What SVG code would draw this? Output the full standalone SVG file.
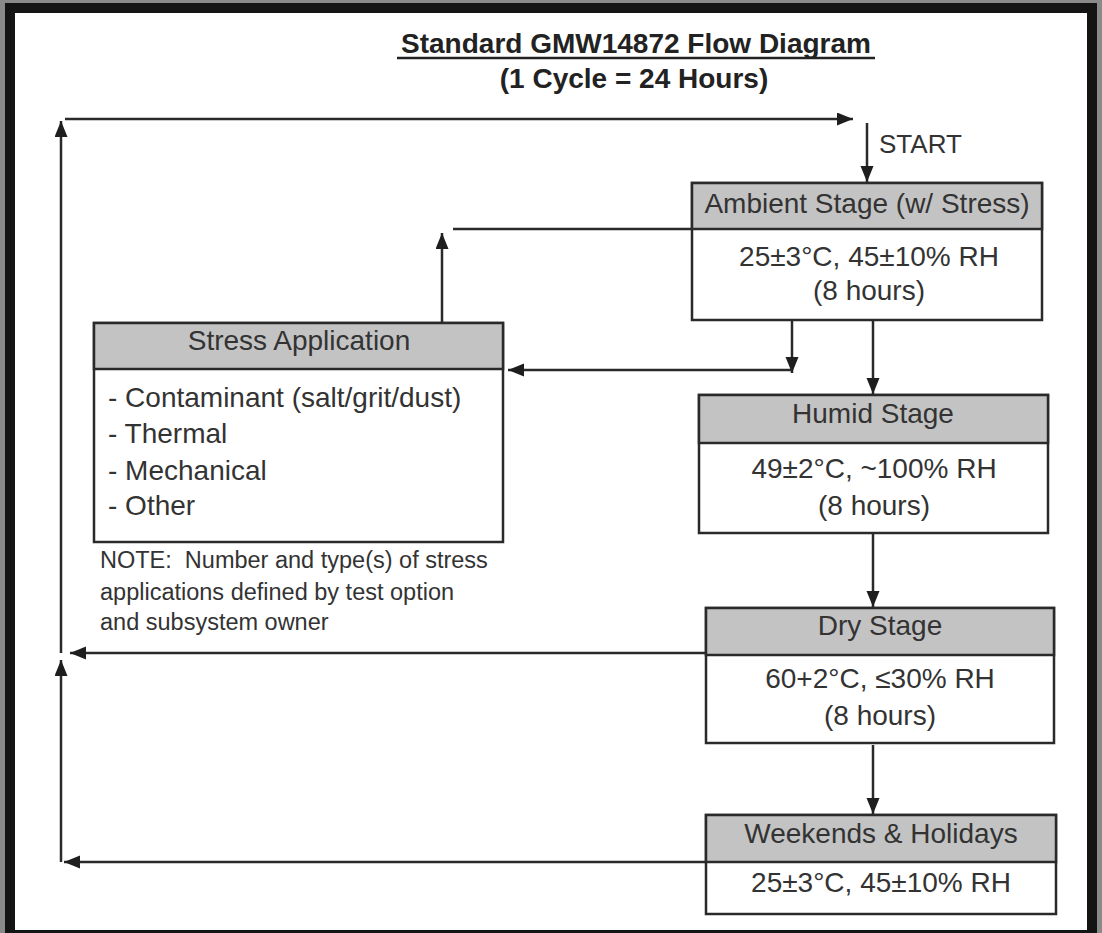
<svg xmlns="http://www.w3.org/2000/svg" width="1102" height="933" viewBox="0 0 1102 933">
<style>
text{font-family:"Liberation Sans",Arial,sans-serif;fill:#333;}
.t{font-size:28px;font-weight:bold;fill:#222;}
.b{font-size:28px;}
.c{text-anchor:middle;}
.n{font-size:23.5px;white-space:pre;}
.box{fill:#fff;stroke:#2a2a2a;stroke-width:2.5;}
.hdr{fill:#c3c3c3;stroke:#2a2a2a;stroke-width:2.5;}
.ln{fill:none;stroke:#2a2a2a;stroke-width:2.5;}
.ar{marker-end:url(#ah);}
</style>
<defs>
<marker id="ah" markerUnits="userSpaceOnUse" markerWidth="17" markerHeight="14" refX="16" refY="6.5" orient="auto">
<path d="M0,0 L16,6.5 L0,13 z" fill="#1e1e1e"/>
</marker>
</defs>
<rect x="0" y="0" width="1102" height="933" fill="#8a8a8a"/>
<rect x="10" y="8" width="1082" height="927" fill="#fff" stroke="#141414" stroke-width="10"/>

<g id="title">
<text class="t c" x="636" y="53">Standard GMW14872 Flow Diagram</text>
<line x1="397" y1="58" x2="875" y2="58" stroke="#222" stroke-width="2.5"/>
<text class="t c" x="634" y="88">(1 Cycle = 24 Hours)</text>
</g>

<g id="connectors">
<path class="ln ar" d="M65,119 L853,119"/>
<path class="ln ar" d="M867,123 L867,182"/>
<path class="ln ar" d="M873,320 L873,394"/>
<path class="ln" d="M692,229 L453,229"/>
<path class="ln ar" d="M442,323 L442,233"/>
<path class="ln ar" d="M792,320 L792,373"/>
<path class="ln ar" d="M792,370 L508,370"/>
<path class="ln ar" d="M873,533 L873,607"/>
<path class="ln ar" d="M873,745 L873,814"/>
<path class="ln ar" d="M706,653 L70,653"/>
<path class="ln ar" d="M706,862 L64,862"/>
<path class="ln ar" d="M61,862 L61,660"/>
<path class="ln ar" d="M61,653 L61,121"/>
<text class="b" x="879" y="153" style="font-size:26px">START</text>
</g>

<g id="ambient">
<rect class="box" x="692" y="183" width="350" height="137"/>
<rect class="hdr" x="692" y="183" width="350" height="46"/>
<text class="b c" x="867" y="213">Ambient Stage (w/ Stress)</text>
<text class="b c" x="869" y="266">25±3°C, 45±10% RH</text>
<text class="b c" x="869" y="300">(8 hours)</text>
</g>

<g id="stress">
<rect class="box" x="94" y="323" width="409" height="219"/>
<rect class="hdr" x="94" y="323" width="409" height="46"/>
<text class="b c" x="299" y="350">Stress Application</text>
<text class="b" x="108" y="407">- Contaminant (salt/grit/dust)</text>
<text class="b" x="108" y="443">- Thermal</text>
<text class="b" x="108" y="480">- Mechanical</text>
<text class="b" x="108" y="515">- Other</text>
</g>

<g id="note">
<text class="n" x="100" y="568" xml:space="preserve">NOTE:  Number and type(s) of stress</text>
<text class="n" x="100" y="600">applications defined by test option</text>
<text class="n" x="100" y="630">and subsystem owner</text>
</g>

<g id="humid">
<rect class="box" x="699" y="395" width="349" height="138"/>
<rect class="hdr" x="699" y="395" width="349" height="48"/>
<text class="b c" x="873" y="423">Humid Stage</text>
<text class="b c" x="874" y="478">49±2°C, ~100% RH</text>
<text class="b c" x="874" y="515">(8 hours)</text>
</g>

<g id="dry">
<rect class="box" x="706" y="608" width="348" height="135"/>
<rect class="hdr" x="706" y="608" width="348" height="47"/>
<text class="b c" x="880" y="635">Dry Stage</text>
<text class="b c" x="880" y="688">60+2°C, ≤30% RH</text>
<text class="b c" x="880" y="725">(8 hours)</text>
</g>

<g id="weekends">
<rect class="box" x="706" y="815" width="350" height="99"/>
<rect class="hdr" x="706" y="815" width="350" height="47"/>
<text class="b c" x="881" y="843">Weekends &amp; Holidays</text>
<text class="b c" x="881" y="892">25±3°C, 45±10% RH</text>
</g>
</svg>
